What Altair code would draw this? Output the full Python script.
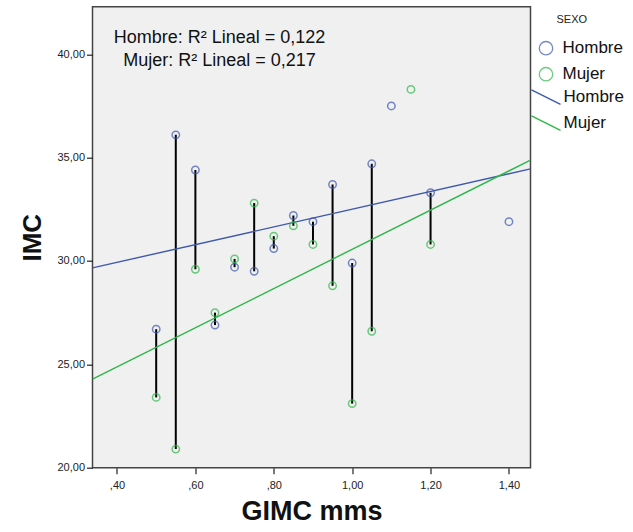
import altair as alt
import pandas as pd

# ---- data ----
gimc = [0.50, 0.55, 0.60, 0.65, 0.70, 0.75, 0.80, 0.85, 0.90, 0.95, 1.00, 1.05, 1.10, 1.15, 1.20, 1.40]
imc_hombre = [26.7, 36.1, 34.4, 26.9, 29.7, 29.5, 30.6, 32.2, 31.9, 33.7, 29.9, 34.7, 37.5, None, 33.3, 31.9]
imc_mujer = [23.4, 20.9, 29.6, 27.5, 30.1, 32.8, 31.2, 31.7, 30.8, 28.8, 23.1, 26.6, None, 38.3, 30.8, None]
sexos = ["Hombre", "Mujer"]
colores = ["#3E58AC", "#2EB848"]
r2_text = ["Hombre: R² Lineal = 0,122", "Mujer: R² Lineal = 0,217"]
y_ticks = [20, 25, 30, 35, 40]
x_ticks = [0.4, 0.6, 0.8, 1.0, 1.2, 1.4]
x_dom = [0.3375, 1.455]
y_dom = [20, 42.3]

FONT = "Liberation Sans"

wide = pd.DataFrame({"GIMC": gimc, "Hombre": imc_hombre, "Mujer": imc_mujer})
long_rows = []
for g, h, m in zip(gimc, imc_hombre, imc_mujer):
    if h is not None:
        long_rows.append({"GIMC": g, "IMC": h, "SEXO": "Hombre"})
    if m is not None:
        long_rows.append({"GIMC": g, "IMC": m, "SEXO": "Mujer"})
long = pd.DataFrame(long_rows)
pairs = wide.dropna()

x_enc = alt.X(
    "GIMC:Q",
    scale=alt.Scale(domain=x_dom, nice=False, zero=False),
    axis=alt.Axis(
        title="GIMC mms", values=x_ticks,
        labelExpr="datum.value < 1 ? ',' + substring(format(datum.value, '.2f'), 2) : replace(format(datum.value, '.2f'), '.', ',')",
        grid=False, domain=False, tickSize=6, tickColor="#222", tickWidth=1.2,
        labelFont=FONT, labelFontSize=11, labelColor="#222", labelPadding=6,
        titleFont=FONT, titleFontSize=27, titleFontWeight="bold", titleColor="#111", titlePadding=8,
    ),
)
y_axis = alt.Axis(
    title="IMC", values=y_ticks,
    labelExpr="replace(format(datum.value, '.2f'), '.', ',')",
    grid=False, domain=False, tickSize=6, tickColor="#222", tickWidth=1.2,
    labelFont=FONT, labelFontSize=11, labelColor="#222", labelPadding=2,
    titleFont=FONT, titleFontSize=26, titleFontWeight="bold", titleColor="#111", titlePadding=11,
)
y_scale = alt.Scale(domain=y_dom, nice=False, zero=False)

rules = alt.Chart(pairs).mark_rule(color="black", strokeWidth=2).encode(
    x=x_enc,
    y=alt.Y("Hombre:Q", scale=y_scale, axis=y_axis),
    y2="Mujer:Q",
)

points = alt.Chart(long).mark_point(shape="circle", filled=False, size=55, strokeWidth=1.5).encode(
    x=x_enc,
    y=alt.Y("IMC:Q", scale=y_scale, axis=y_axis),
    color=alt.Color(
        "SEXO:N", scale=alt.Scale(domain=sexos, range=colores),
        legend=alt.Legend(
            title=None, orient="none", legendX=445, legendY=33,
            symbolType="circle", symbolSize=180, symbolStrokeWidth=1.3,
            labelFont=FONT, labelFontSize=17, labelColor="#111", labelOffset=8,
            rowPadding=7,
        ),
    ),
)

fits = alt.Chart(long).transform_regression(
    "GIMC", "IMC", groupby=["SEXO"], extent=x_dom
).mark_line(strokeWidth=1.4, clip=True).encode(
    x=x_enc,
    y=alt.Y("IMC:Q", scale=y_scale, axis=y_axis),
    color=alt.Color(
        "SEXO:N", scale=alt.Scale(domain=sexos, range=colores),
        legend=alt.Legend(
            title=None, orient="none", legendX=438, legendY=75,
            symbolType="M-1,-0.5L1,0.5", symbolSize=841, symbolStrokeWidth=1.4,
            labelFont=FONT, labelFontSize=17, labelColor="#111", labelOffset=2,
            rowPadding=-5,
        ),
    ),
)

note1 = alt.Chart(pd.DataFrame({"t": [r2_text[0]]})).mark_text(
    font=FONT, fontSize=18, color="#111", align="center", baseline="middle"
).encode(x=alt.value(127), y=alt.value(31), text="t:N")
note2 = alt.Chart(pd.DataFrame({"t": [r2_text[1]]})).mark_text(
    font=FONT, fontSize=18, color="#111", align="center", baseline="middle"
).encode(x=alt.value(127), y=alt.value(54), text="t:N")
legend_title = alt.Chart(pd.DataFrame({"t": ["SEXO"]})).mark_text(
    font=FONT, fontSize=11, color="#222", align="left", baseline="middle"
).encode(x=alt.value(464), y=alt.value(13), text="t:N")

chart = alt.layer(rules, fits, points, note1, note2, legend_title).resolve_scale(
    color="independent"
).properties(
    width=438, height=461,
    background="white",
    autosize=alt.AutoSizeParams(type="none"),
    padding={"left": 92.5, "top": 6.7, "right": 102.5, "bottom": 64.3},
).configure_view(
    fill="#F0F0F0", stroke="#444", strokeWidth=1.5
)

chart.save("out.html", embed_options={"renderer": "svg", "actions": False})
